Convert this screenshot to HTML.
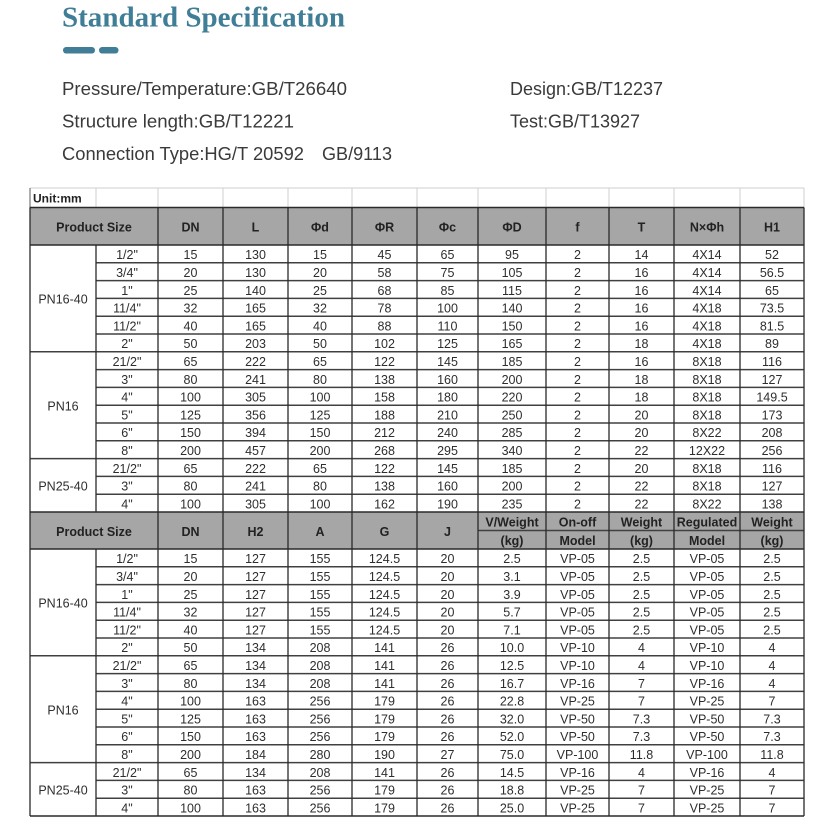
<!DOCTYPE html>
<html>
<head>
<meta charset="utf-8">
<style>
  html,body{margin:0;padding:0;background:#fff;}
  body{width:832px;height:836px;overflow:hidden;}
  svg{display:block;}
  .t text{font-family:"Liberation Sans",Arial,sans-serif;font-size:12.5px;fill:#2e2e2e;text-anchor:middle;}
  .h text{font-family:"Liberation Sans",Arial,sans-serif;font-size:12.5px;font-weight:bold;fill:#222;text-anchor:middle;}
</style>
</head>
<body>
<svg width="832" height="836" viewBox="0 0 832 836" xmlns="http://www.w3.org/2000/svg">
  <rect x="0" y="0" width="832" height="836" fill="#fff"/>
  <!-- Title -->
  <text x="62" y="26.5" font-family="Liberation Serif, serif" font-weight="bold" font-size="29" fill="#3f7e96" textLength="283" lengthAdjust="spacingAndGlyphs">Standard Specification</text>
  <rect x="63" y="47" width="32" height="6.5" rx="3.2" fill="#3f7e96"/>
  <rect x="99" y="47" width="19.5" height="6.5" rx="3.2" fill="#3f7e96"/>

  <g font-family="Liberation Sans, Arial, sans-serif" font-size="18" fill="#3a3a3a">
    <text x="62" y="95" textLength="285" lengthAdjust="spacingAndGlyphs">Pressure/Temperature:GB/T26640</text>
    <text x="62" y="127.5" textLength="232" lengthAdjust="spacingAndGlyphs">Structure length:GB/T12221</text>
    <text x="62" y="160" textLength="242" lengthAdjust="spacingAndGlyphs">Connection Type:HG/T 20592</text>
    <text x="322" y="160" textLength="70" lengthAdjust="spacingAndGlyphs">GB/9113</text>
    <text x="510" y="95" textLength="153" lengthAdjust="spacingAndGlyphs">Design:GB/T12237</text>
    <text x="510" y="127.5" textLength="130" lengthAdjust="spacingAndGlyphs">Test:GB/T13927</text>
  </g>

  <!-- Header fills -->
  <rect x="30" y="207.5" width="774" height="37.5" fill="#a6a6a6"/>
  <rect x="30" y="512" width="774" height="37" fill="#a6a6a6"/>

  <!-- Unit row light grid -->
  <g stroke="#cfcfcf" stroke-width="1">
    <line x1="30" y1="188" x2="804" y2="188"/>
    <line x1="96" y1="188" x2="96" y2="207.5"/>
    <line x1="158" y1="188" x2="158" y2="207.5"/>
    <line x1="223" y1="188" x2="223" y2="207.5"/>
    <line x1="288" y1="188" x2="288" y2="207.5"/>
    <line x1="352" y1="188" x2="352" y2="207.5"/>
    <line x1="417" y1="188" x2="417" y2="207.5"/>
    <line x1="478" y1="188" x2="478" y2="207.5"/>
    <line x1="546" y1="188" x2="546" y2="207.5"/>
    <line x1="609" y1="188" x2="609" y2="207.5"/>
    <line x1="674" y1="188" x2="674" y2="207.5"/>
    <line x1="740" y1="188" x2="740" y2="207.5"/>
    <line x1="804" y1="188" x2="804" y2="207.5"/>
  </g>
  <line x1="30" y1="188" x2="30" y2="207.5" stroke="#777" stroke-width="1.2"/>
  <text x="33" y="202.5" font-family="Liberation Sans, Arial, sans-serif" font-size="12" font-weight="bold" fill="#222">Unit:mm</text>

  <!-- Body horizontal lines (inner rows) -->
  <g stroke="#404040" stroke-width="1.5">
    <line x1="96" y1="262.8" x2="804" y2="262.8"/>
    <line x1="96" y1="280.6" x2="804" y2="280.6"/>
    <line x1="96" y1="298.4" x2="804" y2="298.4"/>
    <line x1="96" y1="316.2" x2="804" y2="316.2"/>
    <line x1="96" y1="334" x2="804" y2="334"/>
    <line x1="30" y1="351.8" x2="804" y2="351.8"/>
    <line x1="96" y1="369.6" x2="804" y2="369.6"/>
    <line x1="96" y1="387.4" x2="804" y2="387.4"/>
    <line x1="96" y1="405.2" x2="804" y2="405.2"/>
    <line x1="96" y1="423" x2="804" y2="423"/>
    <line x1="96" y1="440.8" x2="804" y2="440.8"/>
    <line x1="30" y1="458.6" x2="804" y2="458.6"/>
    <line x1="96" y1="476.4" x2="804" y2="476.4"/>
    <line x1="96" y1="494.2" x2="804" y2="494.2"/>

    <line x1="96" y1="566.8" x2="804" y2="566.8"/>
    <line x1="96" y1="584.6" x2="804" y2="584.6"/>
    <line x1="96" y1="602.4" x2="804" y2="602.4"/>
    <line x1="96" y1="620.2" x2="804" y2="620.2"/>
    <line x1="96" y1="638" x2="804" y2="638"/>
    <line x1="30" y1="655.8" x2="804" y2="655.8"/>
    <line x1="96" y1="673.6" x2="804" y2="673.6"/>
    <line x1="96" y1="691.4" x2="804" y2="691.4"/>
    <line x1="96" y1="709.2" x2="804" y2="709.2"/>
    <line x1="96" y1="727" x2="804" y2="727"/>
    <line x1="96" y1="744.8" x2="804" y2="744.8"/>
    <line x1="30" y1="762.6" x2="804" y2="762.6"/>
    <line x1="96" y1="780.4" x2="804" y2="780.4"/>
    <line x1="96" y1="798.2" x2="804" y2="798.2"/>
    <line x1="478" y1="530.5" x2="804" y2="530.5"/>
  </g>

  <!-- Major horizontals -->
  <g stroke="#2a2a2a" stroke-width="1.4">
    <line x1="30" y1="207.5" x2="804" y2="207.5"/>
    <line x1="30" y1="245" x2="804" y2="245"/>
    <line x1="30" y1="512" x2="804" y2="512"/>
    <line x1="30" y1="549" x2="804" y2="549"/>
    <line x1="30" y1="816" x2="804" y2="816"/>
  </g>

  <!-- Verticals -->
  <g stroke="#2a2a2a" stroke-width="1.3">
    <line x1="30" y1="207.5" x2="30" y2="816"/>
    <line x1="158" y1="207.5" x2="158" y2="816"/>
    <line x1="223" y1="207.5" x2="223" y2="816"/>
    <line x1="288" y1="207.5" x2="288" y2="816"/>
    <line x1="352" y1="207.5" x2="352" y2="816"/>
    <line x1="417" y1="207.5" x2="417" y2="816"/>
    <line x1="478" y1="207.5" x2="478" y2="816"/>
    <line x1="546" y1="207.5" x2="546" y2="816"/>
    <line x1="609" y1="207.5" x2="609" y2="816"/>
    <line x1="674" y1="207.5" x2="674" y2="816"/>
    <line x1="740" y1="207.5" x2="740" y2="816"/>
    <line x1="804" y1="207.5" x2="804" y2="816"/>
    <line x1="96" y1="245" x2="96" y2="512"/>
    <line x1="96" y1="549" x2="96" y2="816"/>
  </g>

  <!-- Header 1 -->
  <g class="h">
    <text x="94" y="231.5">Product Size</text>
    <text x="190.5" y="231.5">DN</text>
    <text x="255.5" y="231.5">L</text>
    <text x="320" y="231.5">Φd</text>
    <text x="384.5" y="231.5">ΦR</text>
    <text x="447.5" y="231.5">Φc</text>
    <text x="512" y="231.5">ΦD</text>
    <text x="577.5" y="231.5">f</text>
    <text x="641.5" y="231.5">T</text>
    <text x="707" y="231.5">N×Φh</text>
    <text x="772" y="231.5">H1</text>
  </g>

  <!-- Header 2 -->
  <g class="h">
    <text x="94" y="535.8">Product Size</text>
    <text x="190.5" y="535.8">DN</text>
    <text x="255.5" y="535.8">H2</text>
    <text x="320" y="535.8">A</text>
    <text x="384.5" y="535.8">G</text>
    <text x="447.5" y="535.8">J</text>
    <text x="512" y="526.5">V/Weight</text>
    <text x="512" y="545">(kg)</text>
    <text x="577.5" y="526.5">On-off</text>
    <text x="577.5" y="545">Model</text>
    <text x="641.5" y="526.5">Weight</text>
    <text x="641.5" y="545">(kg)</text>
    <text x="707" y="526.5">Regulated</text>
    <text x="707" y="545">Model</text>
    <text x="772" y="526.5">Weight</text>
    <text x="772" y="545">(kg)</text>
  </g>

  <!-- Section 1 body -->
  <g class="t">
    <text x="63" y="303.7">PN16-40</text>
    <text x="63" y="410.5">PN16</text>
    <text x="63" y="490.6">PN25-40</text>

    <g transform="translate(0,259.2)"><text x="127">1/2"</text><text x="190.5">15</text><text x="255.5">130</text><text x="320">15</text><text x="384.5">45</text><text x="447.5">65</text><text x="512">95</text><text x="577.5">2</text><text x="641.5">14</text><text x="707">4X14</text><text x="772">52</text></g>
    <g transform="translate(0,277)"><text x="127">3/4"</text><text x="190.5">20</text><text x="255.5">130</text><text x="320">20</text><text x="384.5">58</text><text x="447.5">75</text><text x="512">105</text><text x="577.5">2</text><text x="641.5">16</text><text x="707">4X14</text><text x="772">56.5</text></g>
    <g transform="translate(0,294.8)"><text x="127">1"</text><text x="190.5">25</text><text x="255.5">140</text><text x="320">25</text><text x="384.5">68</text><text x="447.5">85</text><text x="512">115</text><text x="577.5">2</text><text x="641.5">16</text><text x="707">4X14</text><text x="772">65</text></g>
    <g transform="translate(0,312.6)"><text x="127">11/4"</text><text x="190.5">32</text><text x="255.5">165</text><text x="320">32</text><text x="384.5">78</text><text x="447.5">100</text><text x="512">140</text><text x="577.5">2</text><text x="641.5">16</text><text x="707">4X18</text><text x="772">73.5</text></g>
    <g transform="translate(0,330.4)"><text x="127">11/2"</text><text x="190.5">40</text><text x="255.5">165</text><text x="320">40</text><text x="384.5">88</text><text x="447.5">110</text><text x="512">150</text><text x="577.5">2</text><text x="641.5">16</text><text x="707">4X18</text><text x="772">81.5</text></g>
    <g transform="translate(0,348.2)"><text x="127">2"</text><text x="190.5">50</text><text x="255.5">203</text><text x="320">50</text><text x="384.5">102</text><text x="447.5">125</text><text x="512">165</text><text x="577.5">2</text><text x="641.5">18</text><text x="707">4X18</text><text x="772">89</text></g>
    <g transform="translate(0,366)"><text x="127">21/2"</text><text x="190.5">65</text><text x="255.5">222</text><text x="320">65</text><text x="384.5">122</text><text x="447.5">145</text><text x="512">185</text><text x="577.5">2</text><text x="641.5">16</text><text x="707">8X18</text><text x="772">116</text></g>
    <g transform="translate(0,383.8)"><text x="127">3"</text><text x="190.5">80</text><text x="255.5">241</text><text x="320">80</text><text x="384.5">138</text><text x="447.5">160</text><text x="512">200</text><text x="577.5">2</text><text x="641.5">18</text><text x="707">8X18</text><text x="772">127</text></g>
    <g transform="translate(0,401.6)"><text x="127">4"</text><text x="190.5">100</text><text x="255.5">305</text><text x="320">100</text><text x="384.5">158</text><text x="447.5">180</text><text x="512">220</text><text x="577.5">2</text><text x="641.5">18</text><text x="707">8X18</text><text x="772">149.5</text></g>
    <g transform="translate(0,419.4)"><text x="127">5"</text><text x="190.5">125</text><text x="255.5">356</text><text x="320">125</text><text x="384.5">188</text><text x="447.5">210</text><text x="512">250</text><text x="577.5">2</text><text x="641.5">20</text><text x="707">8X18</text><text x="772">173</text></g>
    <g transform="translate(0,437.2)"><text x="127">6"</text><text x="190.5">150</text><text x="255.5">394</text><text x="320">150</text><text x="384.5">212</text><text x="447.5">240</text><text x="512">285</text><text x="577.5">2</text><text x="641.5">20</text><text x="707">8X22</text><text x="772">208</text></g>
    <g transform="translate(0,455)"><text x="127">8"</text><text x="190.5">200</text><text x="255.5">457</text><text x="320">200</text><text x="384.5">268</text><text x="447.5">295</text><text x="512">340</text><text x="577.5">2</text><text x="641.5">22</text><text x="707">12X22</text><text x="772">256</text></g>
    <g transform="translate(0,472.8)"><text x="127">21/2"</text><text x="190.5">65</text><text x="255.5">222</text><text x="320">65</text><text x="384.5">122</text><text x="447.5">145</text><text x="512">185</text><text x="577.5">2</text><text x="641.5">20</text><text x="707">8X18</text><text x="772">116</text></g>
    <g transform="translate(0,490.6)"><text x="127">3"</text><text x="190.5">80</text><text x="255.5">241</text><text x="320">80</text><text x="384.5">138</text><text x="447.5">160</text><text x="512">200</text><text x="577.5">2</text><text x="641.5">22</text><text x="707">8X18</text><text x="772">127</text></g>
    <g transform="translate(0,508.4)"><text x="127">4"</text><text x="190.5">100</text><text x="255.5">305</text><text x="320">100</text><text x="384.5">162</text><text x="447.5">190</text><text x="512">235</text><text x="577.5">2</text><text x="641.5">22</text><text x="707">8X22</text><text x="772">138</text></g>
  </g>

  <!-- Section 2 body -->
  <g class="t">
    <text x="63" y="607.7">PN16-40</text>
    <text x="63" y="714.5">PN16</text>
    <text x="63" y="794.6">PN25-40</text>

    <g transform="translate(0,563.2)"><text x="127">1/2"</text><text x="190.5">15</text><text x="255.5">127</text><text x="320">155</text><text x="384.5">124.5</text><text x="447.5">20</text><text x="512">2.5</text><text x="577.5">VP-05</text><text x="641.5">2.5</text><text x="707">VP-05</text><text x="772">2.5</text></g>
    <g transform="translate(0,581)"><text x="127">3/4"</text><text x="190.5">20</text><text x="255.5">127</text><text x="320">155</text><text x="384.5">124.5</text><text x="447.5">20</text><text x="512">3.1</text><text x="577.5">VP-05</text><text x="641.5">2.5</text><text x="707">VP-05</text><text x="772">2.5</text></g>
    <g transform="translate(0,598.8)"><text x="127">1"</text><text x="190.5">25</text><text x="255.5">127</text><text x="320">155</text><text x="384.5">124.5</text><text x="447.5">20</text><text x="512">3.9</text><text x="577.5">VP-05</text><text x="641.5">2.5</text><text x="707">VP-05</text><text x="772">2.5</text></g>
    <g transform="translate(0,616.6)"><text x="127">11/4"</text><text x="190.5">32</text><text x="255.5">127</text><text x="320">155</text><text x="384.5">124.5</text><text x="447.5">20</text><text x="512">5.7</text><text x="577.5">VP-05</text><text x="641.5">2.5</text><text x="707">VP-05</text><text x="772">2.5</text></g>
    <g transform="translate(0,634.4)"><text x="127">11/2"</text><text x="190.5">40</text><text x="255.5">127</text><text x="320">155</text><text x="384.5">124.5</text><text x="447.5">20</text><text x="512">7.1</text><text x="577.5">VP-05</text><text x="641.5">2.5</text><text x="707">VP-05</text><text x="772">2.5</text></g>
    <g transform="translate(0,652.2)"><text x="127">2"</text><text x="190.5">50</text><text x="255.5">134</text><text x="320">208</text><text x="384.5">141</text><text x="447.5">26</text><text x="512">10.0</text><text x="577.5">VP-10</text><text x="641.5">4</text><text x="707">VP-10</text><text x="772">4</text></g>
    <g transform="translate(0,670)"><text x="127">21/2"</text><text x="190.5">65</text><text x="255.5">134</text><text x="320">208</text><text x="384.5">141</text><text x="447.5">26</text><text x="512">12.5</text><text x="577.5">VP-10</text><text x="641.5">4</text><text x="707">VP-10</text><text x="772">4</text></g>
    <g transform="translate(0,687.8)"><text x="127">3"</text><text x="190.5">80</text><text x="255.5">134</text><text x="320">208</text><text x="384.5">141</text><text x="447.5">26</text><text x="512">16.7</text><text x="577.5">VP-16</text><text x="641.5">7</text><text x="707">VP-16</text><text x="772">4</text></g>
    <g transform="translate(0,705.6)"><text x="127">4"</text><text x="190.5">100</text><text x="255.5">163</text><text x="320">256</text><text x="384.5">179</text><text x="447.5">26</text><text x="512">22.8</text><text x="577.5">VP-25</text><text x="641.5">7</text><text x="707">VP-25</text><text x="772">7</text></g>
    <g transform="translate(0,723.4)"><text x="127">5"</text><text x="190.5">125</text><text x="255.5">163</text><text x="320">256</text><text x="384.5">179</text><text x="447.5">26</text><text x="512">32.0</text><text x="577.5">VP-50</text><text x="641.5">7.3</text><text x="707">VP-50</text><text x="772">7.3</text></g>
    <g transform="translate(0,741.2)"><text x="127">6"</text><text x="190.5">150</text><text x="255.5">163</text><text x="320">256</text><text x="384.5">179</text><text x="447.5">26</text><text x="512">52.0</text><text x="577.5">VP-50</text><text x="641.5">7.3</text><text x="707">VP-50</text><text x="772">7.3</text></g>
    <g transform="translate(0,759)"><text x="127">8"</text><text x="190.5">200</text><text x="255.5">184</text><text x="320">280</text><text x="384.5">190</text><text x="447.5">27</text><text x="512">75.0</text><text x="577.5">VP-100</text><text x="641.5">11.8</text><text x="707">VP-100</text><text x="772">11.8</text></g>
    <g transform="translate(0,776.8)"><text x="127">21/2"</text><text x="190.5">65</text><text x="255.5">134</text><text x="320">208</text><text x="384.5">141</text><text x="447.5">26</text><text x="512">14.5</text><text x="577.5">VP-16</text><text x="641.5">4</text><text x="707">VP-16</text><text x="772">4</text></g>
    <g transform="translate(0,794.6)"><text x="127">3"</text><text x="190.5">80</text><text x="255.5">163</text><text x="320">256</text><text x="384.5">179</text><text x="447.5">26</text><text x="512">18.8</text><text x="577.5">VP-25</text><text x="641.5">7</text><text x="707">VP-25</text><text x="772">7</text></g>
    <g transform="translate(0,812.4)"><text x="127">4"</text><text x="190.5">100</text><text x="255.5">163</text><text x="320">256</text><text x="384.5">179</text><text x="447.5">26</text><text x="512">25.0</text><text x="577.5">VP-25</text><text x="641.5">7</text><text x="707">VP-25</text><text x="772">7</text></g>
  </g>
</svg>
</body>
</html>
